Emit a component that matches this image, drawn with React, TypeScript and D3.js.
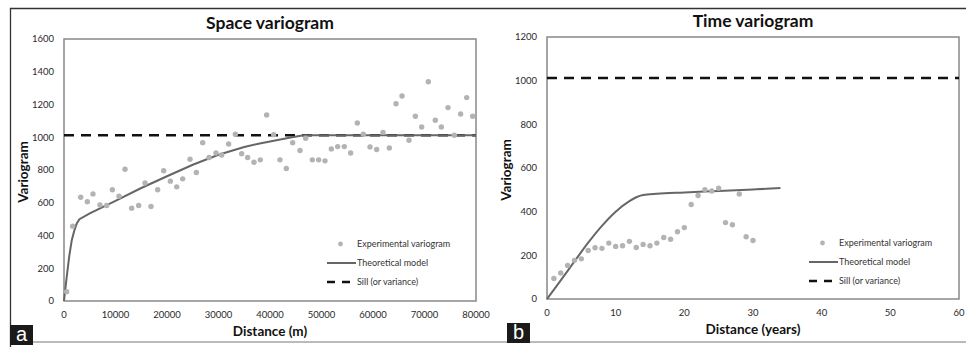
import React from 'react';
import * as d3 from 'd3';

// space variogram (distance in m)
const spaceDist = [
  520, 1680, 3240, 4530, 5630, 6990, 8290, 9390, 10680, 11850, 13140, 14500, 15730, 16890, 18190, 19350,
  20650, 21880, 23040, 24470, 25700, 26930, 28160, 29520, 30620, 31970, 33270, 34500, 35660, 36890, 38120, 39350,
  40710, 41940, 43170, 44400, 45830, 46930, 48220, 49450, 50680, 51910, 53140, 54430, 55660, 56960, 58120, 59420,
  60710, 61940, 63170, 64470, 65630, 66990, 68220, 69450, 70740, 72100, 73270, 74560, 75790, 77020, 78190, 79350,
];
const spaceGamma = [
  57, 457, 634, 606, 654, 587, 583, 679, 640, 805, 567, 583, 721, 577, 679, 795,
  732, 697, 746, 866, 785, 967, 876, 904, 892, 959, 1018, 900, 876, 847, 862, 1136,
  1016, 862, 809, 967, 919, 994, 862, 862, 856, 929, 943, 943, 904, 1087, 1018, 941,
  925, 1030, 935, 1205, 1252, 982, 1128, 1063, 1339, 1104, 1063, 1181, 1012, 1142, 1242, 1128,
];
const spaceModelX = [0, 500, 1000, 1500, 2000, 2500, 3000, 5000, 10000, 15000, 20000, 25000, 30000, 35000, 38000, 41000, 44000, 46500, 80000];
const spaceModelY = [0, 140, 270, 370, 430, 475, 500, 535, 612, 690, 762, 832, 893, 940, 962, 980, 998, 1012, 1012];

// time variogram (distance in years)
const timeDist = [1, 2, 3, 4, 5, 6, 7, 8, 9, 10, 11, 12, 13, 14, 15, 16, 17, 18, 19, 20, 21, 22, 23, 24, 25, 26, 27, 28, 29, 30];
const timeGamma = [
  94, 119, 154, 177, 184, 222, 235, 232, 256, 241, 244, 264, 236, 250, 244, 256, 282, 274, 308, 327,
  433, 474, 501, 495, 507, 350, 340, 481, 285, 268,
];
const timeModelX = [0, 2, 4, 6, 8, 10, 12, 13, 14, 16, 20, 25, 30, 34];
const timeModelY = [0, 85, 172, 258, 335, 400, 448, 466, 476, 482, 488, 495, 502, 508];

const sill = 1012;

const spaceXTicks = [0, 10000, 20000, 30000, 40000, 50000, 60000, 70000, 80000];
const spaceYTicks = [0, 200, 400, 600, 800, 1000, 1200, 1400, 1600];
const timeXTicks = [0, 10, 20, 30, 40, 50, 60];
const timeYTicks = [0, 200, 400, 600, 800, 1000, 1200];

const legendLabels = ['Experimental variogram', 'Theoretical model', 'Sill (or variance)'];

const FONT = 'Lato, "Open Sans", sans-serif';

type PanelProps = {
  title: string;
  xLabel: string;
  letter: string;
  xDomain: [number, number];
  yDomain: [number, number];
  left: number;
  right: number;
  top: number;
  bottom: number;
  xTicks: number[];
  yTicks: number[];
  ptsX: number[];
  ptsY: number[];
  modelX: number[];
  modelY: number[];
  curve: d3.CurveFactory;
  legendX: number;
  legendY: number;
  letterX: number;
  letterY: number;
};

function Panel(p: PanelProps) {
  const x = d3.scaleLinear().domain(p.xDomain).range([p.left, p.right]);
  const y = d3.scaleLinear().domain(p.yDomain).range([p.bottom, p.top]);
  const model = p.modelX.map((v, i) => [v, p.modelY[i]] as [number, number]);
  const line = d3
    .line<[number, number]>()
    .x((d) => x(d[0]))
    .y((d) => y(d[1]))
    .curve(p.curve);
  const cx = (p.left + p.right) / 2;
  const cy = (p.top + p.bottom) / 2;

  return (
    <g fontFamily={FONT}>
      <text x={cx} y={p.top - 10} textAnchor="middle" fontSize={17.5} fontWeight="bold" fill="#111">
        {p.title}
      </text>
      <rect x={p.left} y={p.top} width={p.right - p.left} height={p.bottom - p.top} fill="none" stroke="#888" strokeWidth={1.5} />

      {/* tick labels */}
      {p.yTicks.map((t) => (
        <text key={'y' + t} x={p.left - 10} y={y(t)} dy="0.35em" textAnchor="end" fontSize={9.5} fill="#2a2a2a">
          {t}
        </text>
      ))}
      {p.xTicks.map((t) => (
        <text key={'x' + t} x={x(t)} y={p.bottom + 17} textAnchor="middle" fontSize={9.5} fill="#2a2a2a">
          {t}
        </text>
      ))}

      {/* axis titles */}
      <text x={cx} y={p.bottom + 35} textAnchor="middle" fontSize={13.5} fontWeight="bold" fill="#111">
        {p.xLabel}
      </text>
      <text
        transform={`translate(${p.left - 36},${cy + 2}) rotate(-90)`}
        textAnchor="middle"
        fontSize={13.5}
        fontWeight="bold"
        fill="#111"
      >
        Variogram
      </text>

      {/* sill */}
      <line x1={x(p.xDomain[0])} x2={x(p.xDomain[1])} y1={y(sill)} y2={y(sill)} stroke="#111" strokeWidth={2.6} strokeDasharray="10 7" />

      {/* model */}
      <path d={line(model) || undefined} fill="none" stroke="#666" strokeWidth={2} />

      {/* experimental points */}
      {p.ptsX.map((v, i) => (
        <circle key={i} cx={x(v)} cy={y(p.ptsY[i])} r={2.7} fill="#b3b3b3" />
      ))}

      {/* legend */}
      <g fontSize={9} fill="#333">
        <circle cx={p.legendX + 13.5} cy={p.legendY} r={2.4} fill="#b3b3b3" />
        <text x={p.legendX + 30} y={p.legendY} dy="0.35em">{legendLabels[0]}</text>
        <line x1={p.legendX} x2={p.legendX + 29} y1={p.legendY + 19} y2={p.legendY + 19} stroke="#666" strokeWidth={2} />
        <text x={p.legendX + 30} y={p.legendY + 19} dy="0.35em">{legendLabels[1]}</text>
        <line x1={p.legendX} x2={p.legendX + 26} y1={p.legendY + 38} y2={p.legendY + 38} stroke="#111" strokeWidth={2.6} strokeDasharray="8 7" />
        <text x={p.legendX + 30} y={p.legendY + 38} dy="0.35em">{legendLabels[2]}</text>
      </g>

      {/* panel letter */}
      <rect x={p.letterX} y={p.letterY} width={23} height={20} fill="#1a1a1a" />
      <text x={p.letterX + 11.5} y={p.letterY + 16} textAnchor="middle" fontSize={20} fill="#fff" fontFamily="Arial, 'Liberation Sans', sans-serif">
        {p.letter}
      </text>
    </g>
  );
}

export default function App() {
  return (
    <svg width={966} height={347} style={{ position: 'absolute', left: 0, top: 0, background: '#fff' }}>
      <rect x={0} y={0} width={966} height={347} fill="#fff" />
      <path d="M10.5,347 V8.5 H966" fill="none" stroke="#333" strokeWidth={1.3} />
      <line x1={10} x2={966} y1={342} y2={342} stroke="#777" strokeWidth={1} />
      <Panel
        title="Space variogram"
        xLabel="Distance (m)"
        letter="a"
        xDomain={[0, 80000]}
        yDomain={[0, 1600]}
        left={64}
        right={476}
        top={39}
        bottom={301}
        xTicks={spaceXTicks}
        yTicks={spaceYTicks}
        ptsX={spaceDist}
        ptsY={spaceGamma}
        modelX={spaceModelX}
        modelY={spaceModelY}
        curve={d3.curveLinear}
        legendX={327}
        legendY={244}
        letterX={10}
        letterY={325}
      />
      <Panel
        title="Time variogram"
        xLabel="Distance (years)"
        letter="b"
        xDomain={[0, 60]}
        yDomain={[0, 1200]}
        left={547}
        right={959}
        top={37}
        bottom={299}
        xTicks={timeXTicks}
        yTicks={timeYTicks}
        ptsX={timeDist}
        ptsY={timeGamma}
        modelX={timeModelX}
        modelY={timeModelY}
        curve={d3.curveMonotoneX}
        legendX={809}
        legendY={243}
        letterX={507}
        letterY={323}
      />
    </svg>
  );
}
